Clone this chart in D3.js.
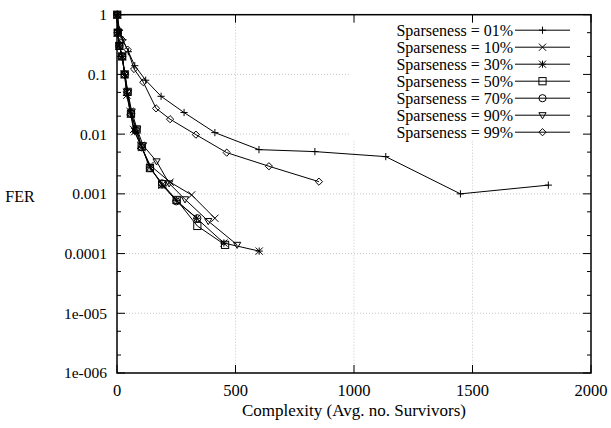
<!DOCTYPE html>
<html>
<head>
<meta charset="utf-8">
<script src="https://cdn.jsdelivr.net/npm/d3@7"></script>
<style>
  body { margin: 0; background: #fff; }
  svg text { font-family: "Liberation Serif", "Times New Roman", Times, "DejaVu Serif", serif; fill: #000; }
</style>
</head>
<body>
<svg id="chart" width="611" height="428"></svg>
<script>
// series: [complexity, FER]
const s01 = [[2,1],[10,0.55],[25,0.38],[48,0.24],[75,0.14],[121,0.08],[186,0.043],[283,0.023],[413,0.0106],[599,0.0055],[835,0.0051],[1134,0.0042],[1449,0.001],[1820,0.0014]];
const s10 = [[1,1],[3,0.5],[10,0.3],[22,0.2],[32,0.1],[40,0.05],[55,0.024],[70,0.012],[100,0.0065],[140,0.003],[224,0.00157],[315,0.00096],[413,0.00039]];
const s30 = [[1,1],[3,0.5],[10,0.3],[22,0.2],[32,0.1],[42,0.045],[58,0.022],[75,0.011],[105,0.006],[140,0.0028],[190,0.0014],[250,0.00078],[336,0.00039],[451,0.00015],[600,0.00011]];
const s50 = [[1,1],[3,0.5],[10,0.3],[22,0.2],[32,0.1],[45,0.051],[59,0.022],[83,0.012],[104,0.0062],[139,0.0027],[191,0.00145],[252,0.00079],[339,0.00029],[456,0.00014]];
const s70 = [[1,1],[3,0.5],[10,0.3],[22,0.2],[33,0.1],[44,0.05],[60,0.022],[80,0.0115],[105,0.006],[140,0.0027],[190,0.0015],[250,0.00075],[339,0.00039]];
const s90 = [[1,1],[3,0.5],[10,0.3],[22,0.2],[34,0.1],[46,0.05],[62,0.024],[85,0.012],[110,0.0065],[167,0.0035],[220,0.0015],[287,0.00081],[385,0.00035],[507,0.00014]];
const s99 = [[2,1],[8,0.55],[22,0.38],[45,0.26],[72,0.123],[111,0.074],[165,0.027],[224,0.0178],[333,0.0098],[463,0.0049],[641,0.0029],[852,0.0016]];

const seriesNames = ["Sparseness = 01%", "Sparseness = 10%", "Sparseness = 30%", "Sparseness = 50%", "Sparseness = 70%", "Sparseness = 90%", "Sparseness = 99%"];
const seriesData = [s01, s10, s30, s50, s70, s90, s99];
const markers = ["plus", "cross", "star", "square", "circle", "tridown", "diamond"];

const xTicks = [0, 500, 1000, 1500, 2000];
const yTicks = [1, 0.1, 0.01, 0.001, 0.0001, 1e-5, 1e-6];
const yTickLabels = ["1", "0.1", "0.01", "0.001", "0.0001", "1e-005", "1e-006"];

const FONT = '"Liberation Serif", "Times New Roman", Times, "DejaVu Serif", serif';

const svg = d3.select("#chart"),
  margin = { top: 14.7, right: 20, bottom: 55, left: 117 },
  width = 474,
  height = 358.3;

const chart = svg.append("g").attr("transform", `translate(${margin.left},${margin.top})`);

const x = d3.scaleLinear().domain([0, 2000]).range([0, width]);
const y = d3.scaleLog().domain([1e-6, 1]).range([height, 0]);

// grid
chart.append("g")
  .selectAll("line")
  .data(xTicks.slice(1, -1))
  .enter().append("line")
  .attr("x1", d => x(d)).attr("x2", d => x(d))
  .attr("y1", 0).attr("y2", height)
  .attr("stroke", "#bbb").attr("stroke-width", 0.8).attr("stroke-dasharray", "1,2");

chart.append("g")
  .selectAll("line")
  .data(yTicks.slice(1, -1))
  .enter().append("line")
  .attr("x1", 0).attr("x2", width)
  .attr("y1", d => y(d)).attr("y2", d => y(d))
  .attr("stroke", "#bbb").attr("stroke-width", 0.8).attr("stroke-dasharray", "1,2");

// key area hides the grid
chart.append("rect")
  .attr("x", 232).attr("y", 1)
  .attr("width", width - 233).attr("height", 125)
  .attr("fill", "#fff");

// ticks (inward, mirrored)
const tickG = chart.append("g").attr("stroke", "#000").attr("stroke-width", 1);
xTicks.forEach(d => {
  tickG.append("line").attr("x1", x(d)).attr("x2", x(d)).attr("y1", height).attr("y2", height - 8);
  tickG.append("line").attr("x1", x(d)).attr("x2", x(d)).attr("y1", 0).attr("y2", 8);
});
yTicks.forEach(d => {
  tickG.append("line").attr("x1", 0).attr("x2", 8).attr("y1", y(d)).attr("y2", y(d));
  tickG.append("line").attr("x1", width).attr("x2", width - 8).attr("y1", y(d)).attr("y2", y(d));
});
const minor = [];
yTicks.slice(1).forEach(d => { minor.push(d * 2, d * 5); });
minor.forEach(d => {
  tickG.append("line").attr("x1", 0).attr("x2", 4).attr("y1", y(d)).attr("y2", y(d));
  tickG.append("line").attr("x1", width).attr("x2", width - 4).attr("y1", y(d)).attr("y2", y(d));
});

// tick labels
chart.append("g").selectAll("text")
  .data(xTicks)
  .enter().append("text")
  .attr("x", d => x(d))
  .attr("y", height + 23)
  .attr("text-anchor", "middle")
  .style("font-family", FONT)
  .style("font-size", "16.5px")
  .text(d => d);

chart.append("g").selectAll("text")
  .data(yTicks)
  .enter().append("text")
  .attr("x", -10)
  .attr("y", d => y(d))
  .attr("dy", "0.35em")
  .attr("text-anchor", "end")
  .style("font-family", FONT)
  .style("font-size", "15.5px")
  .text((d, i) => yTickLabels[i]);

// axis titles
svg.append("text")
  .attr("x", margin.left + width / 2)
  .attr("y", 416)
  .attr("text-anchor", "middle")
  .style("font-family", FONT)
  .style("font-size", "17px")
  .text("Complexity (Avg. no. Survivors)");

svg.append("text")
  .attr("x", 20)
  .attr("y", 196)
  .attr("dy", "0.35em")
  .attr("text-anchor", "middle")
  .style("font-family", FONT)
  .style("font-size", "16px")
  .text("FER");

// marker drawing
function drawMarker(g, type, cx, cy) {
  const r = 3.6;
  let el;
  if (type === "plus") {
    el = g.append("path").attr("d", `M${cx - r},${cy}H${cx + r}M${cx},${cy - r}V${cy + r}`);
  } else if (type === "cross") {
    el = g.append("path").attr("d", `M${cx - r},${cy - r}L${cx + r},${cy + r}M${cx - r},${cy + r}L${cx + r},${cy - r}`);
  } else if (type === "star") {
    el = g.append("path").attr("d", `M${cx - r},${cy}H${cx + r}M${cx},${cy - r}V${cy + r}M${cx - r},${cy - r}L${cx + r},${cy + r}M${cx - r},${cy + r}L${cx + r},${cy - r}`);
  } else if (type === "square") {
    el = g.append("rect").attr("x", cx - r).attr("y", cy - r).attr("width", 2 * r).attr("height", 2 * r);
  } else if (type === "circle") {
    el = g.append("circle").attr("cx", cx).attr("cy", cy).attr("r", r);
  } else if (type === "tridown") {
    el = g.append("path").attr("d", `M${cx - r},${cy - r * 0.7}L${cx + r},${cy - r * 0.7}L${cx},${cy + r}Z`);
  } else {
    el = g.append("path").attr("d", `M${cx},${cy - r}L${cx + r},${cy}L${cx},${cy + r}L${cx - r},${cy}Z`);
  }
  el.attr("stroke", "#000").attr("stroke-width", 1).attr("fill", "none");
}

const line = d3.line().x(d => x(d[0])).y(d => y(d[1]));

seriesData.forEach((data, i) => {
  const g = chart.append("g");
  g.append("path")
    .attr("d", line(data))
    .attr("fill", "none")
    .attr("stroke", "#000")
    .attr("stroke-width", 1);
  data.forEach(d => drawMarker(g, markers[i], x(d[0]), y(d[1])));
});

// border
chart.append("rect")
  .attr("width", width).attr("height", height)
  .attr("fill", "none").attr("stroke", "#000").attr("stroke-width", 1.5);

// legend
const legend = chart.append("g");
seriesNames.forEach((name, i) => {
  const ly = 15.5 + i * 17;
  legend.append("text")
    .attr("x", 396)
    .attr("y", ly)
    .attr("dy", "0.35em")
    .attr("text-anchor", "end")
    .style("font-family", FONT)
    .style("font-size", "16px")
    .text(name);
  legend.append("line")
    .attr("x1", 398).attr("x2", 453)
    .attr("y1", ly).attr("y2", ly)
    .attr("stroke", "#000").attr("stroke-width", 1);
  drawMarker(legend, markers[i], 425.5, ly);
});
</script>
</body>
</html>
